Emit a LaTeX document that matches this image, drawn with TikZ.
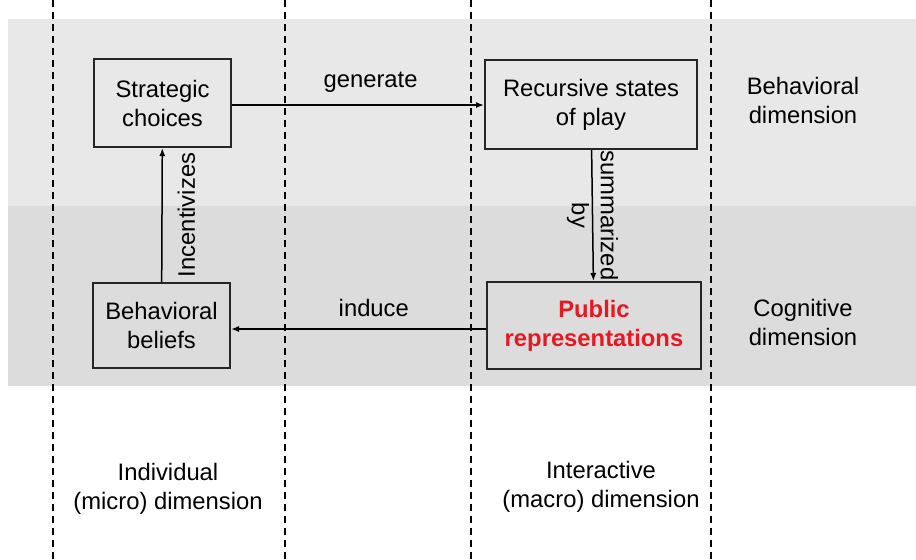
\documentclass[tikz,border=0pt]{standalone}
\usepackage{fontspec}
\setmainfont{Liberation Sans}
\usetikzlibrary{positioning, arrows.meta}
\definecolor{bandtop}{RGB}{232,232,232}
\definecolor{bandlow}{RGB}{220,220,220}
\definecolor{pubred}{RGB}{230,25,35}

\begin{document}
\begin{tikzpicture}[x=0.5pt, y=-0.5pt,
  every node/.style={font=\fontsize{11.9}{14.5}\selectfont, align=center},
  box/.style={draw=black!85, line width=1pt, inner sep=0pt},
  flow/.style={-{Latex[length=4pt,width=3pt]}, line width=0.75pt},
  lane/.style={dash pattern=on 3.5pt off 2.5pt, line width=0.75pt}]
\useasboundingbox (0,0) rectangle (916,559);

% dimension bands
\fill[bandtop] (8,19) rectangle (916,206);
\fill[bandlow] (8,206) rectangle (916,386);

% lanes
\foreach \lx in {53, 285, 471, 711}
  \draw[lane] (\lx,0) -- (\lx,559);

% boxes
\node[box, minimum width=68.5pt, minimum height=44pt] (choices) at (162.5,103) {Strategic\\choices};
\node[box, minimum width=106pt, minimum height=44.5pt] (states) at (591,104.5) {Recursive states\\of play};
\node[box, minimum width=68.5pt, minimum height=42.5pt] (beliefs) at (161.5,325.5) {Behavioral\\beliefs};
\node[box, minimum width=107pt, minimum height=43.5pt, text=pubred, font=\fontsize{11.9}{14.5}\selectfont\bfseries] (public) at (594,325.5) {Public\\representations};

% dimension labels
\node (behav) at (803,100) {Behavioral\\dimension};
\node (cogn) at (803,322) {Cognitive\\dimension};
\node (micro) at (168,489) {Individual\\(micro) dimension};
\node (macro) at (601,487) {Interactive\\(macro) dimension};

% links
\draw[flow] (choices.east |- 0,105) -- node[pos=.55, above=6pt, inner sep=0pt] {generate} (states.west |- 0,105);
\draw[flow] (states) -- node[midway, rotate=-90, inner sep=0pt] {summarized\\by} (public);
\draw[flow] (public.west |- 0,329) -- node[pos=.44, above=6pt, inner sep=0pt] {induce} (beliefs.east |- 0,329);
\draw[flow] (beliefs) -- node[midway, rotate=90, anchor=north, inner sep=7.5pt] {Incentivizes} (choices);
\end{tikzpicture}
\end{document}
